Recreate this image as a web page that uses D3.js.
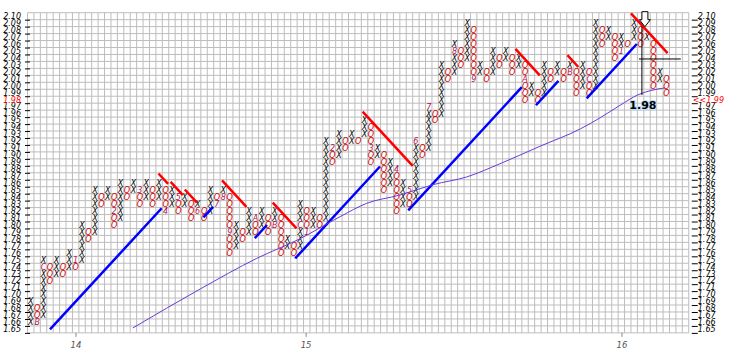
<!DOCTYPE html>
<html>
<head>
<meta charset="utf-8">
<script src="https://cdn.jsdelivr.net/npm/d3@7"></script>
<style>
body { margin: 0; background: #fff; }
text { font-family: "DejaVu Sans", Verdana, sans-serif; }
</style>
</head>
<body>
<div id="chart"></div>
<script>
// point & figure, 0.01 box, 1 box reversal
var firstStart = 1.66;
// column extremes: X columns = top, O columns = bottom (alternating, X first)
var extremes = [1.69, 1.66, 1.75, 1.72, 1.75, 1.73, 1.76, 1.74, 1.80, 1.78,
    1.85, 1.83, 1.85, 1.80, 1.86, 1.84, 1.86, 1.83, 1.86, 1.83,
    1.86, 1.82, 1.85, 1.82, 1.84, 1.81, 1.83, 1.81, 1.85, 1.83,
    1.85, 1.76, 1.80, 1.78, 1.82, 1.79, 1.82, 1.79, 1.82, 1.76,
    1.78, 1.76, 1.83, 1.79, 1.82, 1.80, 1.92, 1.89, 1.93, 1.91,
    1.93, 1.92, 1.95, 1.89, 1.91, 1.85, 1.89, 1.82, 1.86, 1.83,
    1.92, 1.90, 1.97, 1.95, 2.03, 2.01, 2.06, 2.03, 2.09, 2.01,
    2.03, 2.01, 2.05, 2.03, 2.05, 2.02, 2.04, 1.98, 2.00, 1.98,
    2.03, 2.01, 2.03, 2.01, 2.03, 1.99, 2.03, 1.99, 2.09, 2.06,
    2.08, 2.04, 2.07, 2.06, 2.09, 2.06, 2.07, 2.00, 2.02, 1.99];
// month markers [column, price, label]
var markers = [[1, 1.66, "B"], [2, 1.74, "C"], [7, 1.75, "1"], [13, 1.82, "2"],
    [17, 1.85, "3"], [21, 1.82, "4"], [23, 1.84, "5"], [26, 1.82, "6"],
    [29, 1.83, "7"], [30, 1.84, "8"], [31, 1.79, "9"], [35, 1.81, "A"],
    [38, 1.80, "B"], [42, 1.80, "C"], [43, 1.79, "1"], [47, 1.91, "2"],
    [53, 1.91, "3"], [57, 1.88, "4"], [59, 1.85, "5"], [60, 1.92, "6"],
    [62, 1.97, "7"], [66, 2.05, "8"], [69, 2.01, "9"], [77, 2.01, "A"],
    [84, 2.02, "B"], [87, 2.01, "C"], [92, 2.05, "1"]];
// trend lines [startCol, startPrice, endCol]
var supportLines = [[3.0, 1.65, 20.4], [26.9, 1.811, 28.4], [34.9, 1.781, 36.8],
    [41.2, 1.752, 54.4], [58.8, 1.821, 76.5], [78.7, 1.972, 82.2], [86.6, 1.982, 94.4]];
var resistLines = [[19.9, 1.874, 21.4], [21.8, 1.862, 23.7], [24.0, 1.851, 25.9],
    [29.8, 1.864, 33.6], [37.7, 1.832, 41.4], [51.7, 1.963, 59.5],
    [75.5, 2.053, 79.3], [83.6, 2.044, 85.3], [93.5, 2.104, 99.2]];
// moving average [col, price]
var maPoints = [[15.9, 1.652], [26.4, 1.708], [35.2, 1.752], [41.9, 1.780],
    [48.2, 1.812], [52.3, 1.831], [57.5, 1.843], [62.7, 1.858], [67.9, 1.869],
    [73.1, 1.888], [79.3, 1.913], [85.6, 1.938], [88.7, 1.954], [91.8, 1.972],
    [94.6, 1.987], [96.5, 1.993], [98.8, 1.997]];
var years = [[7.05, "14"], [42.9, "15"], [92.1, "16"]];
var priceMin = 1.65, priceMax = 2.10;
var lastPrice = "1.99", cursorPrice = "1.98";
var cursor = [95.2, 2.0385];

var width = 743, height = 354;
var nCols = 103;
var gridLeft = 27.5, colW = 6.42;
var gridTop = 12.7, rowH = 6.96;
var nRows = Math.round((priceMax - priceMin) / 0.01) + 1;
var gridRight = gridLeft + nCols * colW;
var gridBottom = gridTop + nRows * rowH;

var svg = d3.select('#chart')
    .append('svg')
    .attr('width', width)
    .attr('height', height);

var x = d3.scaleLinear().domain([0, nCols]).range([gridLeft, gridRight]);
var y = d3.scaleLinear()
    .domain([priceMin - 0.005, priceMax + 0.005])
    .range([gridBottom, gridTop]);

var levels = d3.range(nRows).map(function(i) { return +(priceMin + i * 0.01).toFixed(2); });

// grid
var grid = svg.append('g').attr('stroke', '#bdbdbd').attr('stroke-width', 1);
grid.selectAll('line.v')
    .data(d3.range(nCols + 1))
    .enter().append('line')
    .attr('x1', function(d) { return x(d); })
    .attr('x2', function(d) { return x(d); })
    .attr('y1', gridTop).attr('y2', gridBottom);
grid.selectAll('line.h')
    .data(d3.range(nRows + 1))
    .enter().append('line')
    .attr('x1', gridLeft).attr('x2', gridRight)
    .attr('y1', function(d) { return y(priceMin - 0.005 + d * 0.01); })
    .attr('y2', function(d) { return y(priceMin - 0.005 + d * 0.01); });

// price scales, both sides
var rightAxis = svg.append('g');
rightAxis.selectAll('line')
    .data(levels).enter().append('line')
    .attr('x1', gridRight + 3).attr('x2', gridRight + 9)
    .attr('y1', function(d) { return y(d) + 4; })
    .attr('y2', function(d) { return y(d) + 4; })
    .attr('stroke', '#000');
rightAxis.selectAll('text')
    .data(levels).enter().append('text')
    .attr('x', function(d) { return d == +cursorPrice ? gridRight + 4 : gridRight + 9; })
    .attr('y', function(d) { return y(d) + 2.8; })
    .attr('font-size', 8)
    .attr('font-style', 'italic')
    .attr('fill', function(d) { return d == +cursorPrice ? '#ff0000' : '#000'; })
    .text(function(d) { return d == +cursorPrice ? '<<' + lastPrice : d.toFixed(2); });

var leftAxis = svg.append('g');
leftAxis.selectAll('line')
    .data(levels).enter().append('line')
    .attr('x1', 25).attr('x2', 30)
    .attr('y1', function(d) { return y(d) + 4; })
    .attr('y2', function(d) { return y(d) + 4; })
    .attr('stroke', '#000');
leftAxis.selectAll('text')
    .data(levels).enter().append('text')
    .attr('x', 21)
    .attr('y', function(d) { return y(d) + 2.8; })
    .attr('text-anchor', 'end')
    .attr('font-size', 8)
    .attr('font-style', 'italic')
    .attr('fill', function(d) { return d == +cursorPrice ? '#ff0000' : '#000'; })
    .text(function(d) { return d.toFixed(2); });

// years along the bottom
var xAxis = svg.append('g');
xAxis.selectAll('line')
    .data(years).enter().append('line')
    .attr('x1', function(d) { return x(d[0] + 0.5); })
    .attr('x2', function(d) { return x(d[0] + 0.5); })
    .attr('y1', gridBottom).attr('y2', gridBottom + 4)
    .attr('stroke', '#888');
xAxis.selectAll('text')
    .data(years).enter().append('text')
    .attr('x', function(d) { return x(d[0] + 0.5); })
    .attr('y', gridBottom + 15)
    .attr('text-anchor', 'middle')
    .attr('font-size', 8.5)
    .attr('font-style', 'italic')
    .attr('fill', '#555')
    .text(function(d) { return d[1]; });

// build boxes
var boxes = [];
var prevEnd = null;
extremes.forEach(function(ext, i) {
    var isX = i % 2 == 0;
    var start = i == 0 ? firstStart : (isX ? prevEnd + 0.01 : prevEnd - 0.01);
    var lo = Math.min(start, ext), hi = Math.max(start, ext);
    for (var p = Math.round(lo * 100); p <= Math.round(hi * 100); p++) {
        boxes.push({ col: i, price: p / 100, isX: isX });
    }
    prevEnd = ext;
});
var markerKey = {};
markers.forEach(function(m) { markerKey[m[0] + '_' + m[1].toFixed(2)] = m[2]; });

svg.append('g').selectAll('text')
    .data(boxes).enter().append('text')
    .attr('x', function(d) { return x(d.col + 0.5); })
    .attr('y', function(d) { return y(d.price) + 2.9; })
    .attr('text-anchor', 'middle')
    .attr('font-size', 8)
    .attr('font-style', 'italic')
    .attr('fill', function(d) {
        if (markerKey[d.col + '_' + d.price.toFixed(2)]) return '#b0124e';
        return d.isX ? '#000' : '#d00000';
    })
    .text(function(d) {
        return markerKey[d.col + '_' + d.price.toFixed(2)] || (d.isX ? 'X' : 'O');
    });

// trend lines
svg.append('g').selectAll('line')
    .data(supportLines).enter().append('line')
    .attr('x1', function(d) { return x(d[0] + 0.5); })
    .attr('y1', function(d) { return y(d[1]); })
    .attr('x2', function(d) { return x(d[2] + 0.5); })
    .attr('y2', function(d) { return y(d[1] + (d[2] - d[0]) * 0.01); })
    .attr('stroke', '#0000ff')
    .attr('stroke-width', 2.5);
svg.append('g').selectAll('line')
    .data(resistLines).enter().append('line')
    .attr('x1', function(d) { return x(d[0] + 0.5); })
    .attr('y1', function(d) { return y(d[1]); })
    .attr('x2', function(d) { return x(d[2] + 0.5); })
    .attr('y2', function(d) { return y(d[1] - (d[2] - d[0]) * 0.01); })
    .attr('stroke', '#ff0000')
    .attr('stroke-width', 2.5);

// moving average
var maLine = d3.line()
    .x(function(d) { return x(d[0] + 0.5); })
    .y(function(d) { return y(d[1]); })
    .curve(d3.curveMonotoneX);
svg.append('path')
    .attr('d', maLine(maPoints))
    .attr('fill', 'none')
    .attr('stroke', '#6a3ad8')
    .attr('stroke-width', 1);

// cursor
var cx = x(cursor[0] + 0.5), cy = y(cursor[1]);
svg.append('line').attr('x1', cx).attr('x2', cx).attr('y1', gridTop + 14).attr('y2', cy + 36)
    .attr('stroke', '#000');
svg.append('line').attr('x1', cx - 3).attr('x2', gridRight - 8).attr('y1', cy).attr('y2', cy)
    .attr('stroke', '#000');
svg.append('path')
    .attr('d', 'M' + (cx) + ',' + (gridTop - 1) + 'h6v8h2.5l-5.5,7l-5.5,-7h2.5z')
    .attr('fill', '#fff').attr('stroke', '#000');
svg.append('text')
    .attr('x', cx + 1).attr('y', cy + 50)
    .attr('text-anchor', 'middle')
    .attr('font-size', 11).attr('font-weight', 'bold')
    .attr('stroke', '#bfe0ff').attr('stroke-width', 2).attr('paint-order', 'stroke')
    .attr('fill', '#000')
    .text(cursorPrice);
</script>
</body>
</html>
